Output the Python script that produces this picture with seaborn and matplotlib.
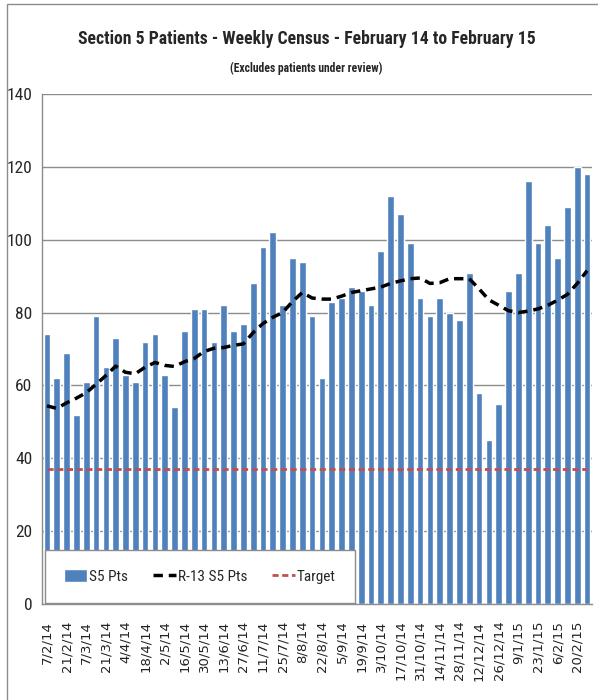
import matplotlib
matplotlib.use("Agg")
import matplotlib.pyplot as plt
from matplotlib.patches import Rectangle
import numpy as np
import pandas as pd
import seaborn as sns

# weekly census, Section 5 patients (7/2/14 .. 27/2/15)
weeks = pd.date_range("2014-02-07", periods=56, freq="7D").strftime("%d/%m/%y")
s5_pts = [74, 62, 69, 52, 61, 79, 65, 73, 63, 61,
          72, 74, 63, 54, 75, 81, 81, 72, 82, 75,
          77, 88, 98, 102, 82, 95, 94, 79, 62, 83,
          84, 87, 86, 82, 97, 112, 107, 99, 84, 79,
          84, 80, 78, 91, 58, 45, 55, 86, 91, 116,
          99, 104, 95, 109, 120, 118]
# rolling 13 week average
r13_pts = [54.4, 53.7, 55.2, 56.5, 58, 60.3, 62.7, 65.3, 63.6, 63.2,
           65, 66.3, 65.5, 65.2, 66.5, 67.4, 69.3, 70.2, 70.4, 71,
           71.4, 74.5, 77, 78.7, 80, 83, 85.5, 84, 83.7, 83.7,
           84.5, 85.5, 86, 86.5, 87, 88, 88.7, 89.3, 89.5, 88,
           88.2, 89.3, 89.3, 89.3, 86.5, 83.5, 82, 80.5, 80, 80.4,
           81, 82, 83.4, 85, 88, 91.5]
target = 37

tick_labels = ["7/2/14", "21/2/14", "7/3/14", "21/3/14", "4/4/14", "18/4/14",
               "2/5/14", "16/5/14", "30/5/14", "13/6/14", "27/6/14", "11/7/14",
               "25/7/14", "8/8/14", "22/8/14", "5/9/14", "19/9/14", "3/10/14",
               "17/10/14", "31/10/14", "14/11/14", "28/11/14", "12/12/14",
               "26/12/14", "9/1/15", "23/1/15", "6/2/15", "20/2/15"]

df = pd.DataFrame({"week": weeks, "S5 Pts": s5_pts, "R-13 S5 Pts": r13_pts})
df["Target"] = target

sns.set_style("white")
narrow = ["Liberation Sans Narrow", "Roboto Condensed", "Open Sans Condensed",
          "Liberation Sans", "DejaVu Sans"]
plt.rcParams["font.family"] = narrow
plt.rcParams["font.stretch"] = "condensed"

fig = plt.figure(figsize=(5.98, 7.0), dpi=100)
ax = fig.add_axes([42 / 598, 96 / 700, 550 / 598, 510 / 700])

sns.barplot(data=df, x="week", y="S5 Pts", color="#4F81BD", width=0.68,
            saturation=1, ax=ax, label="S5 Pts", zorder=2)
pos = np.arange(len(df))
ax.plot(pos, df["R-13 S5 Pts"], color="black", lw=2.5, ls=(0, (2.7, 1.7)),
        label="R-13 S5 Pts", zorder=3)
ax.plot(pos, df["Target"], color="#C0504D", lw=2.0, ls=(0, (2.2, 1.3)),
        label="Target", zorder=3)

ax.set_xlim(-0.5, len(df) - 0.5)
ax.set_ylim(0, 140)
ax.set_yticks(range(0, 141, 20))
ax.yaxis.grid(True, color="#8C8C8C", lw=1)
ax.set_axisbelow(True)
for s in ["top", "right"]:
    ax.spines[s].set_visible(False)
for s in ["left", "bottom"]:
    ax.spines[s].set_color("#8C8C8C")
    ax.spines[s].set_linewidth(1)

ax.set_xticks(np.arange(0, len(df), 2), tick_labels, rotation=90,
              fontsize=9.5, family=["DejaVu Sans"], fontstretch="normal",
              color="#222222")
ax.set_xticks(np.arange(-0.5, len(df), 2), minor=True)
ax.tick_params(axis="x", which="major", length=0, pad=12)
ax.tick_params(axis="x", which="minor", length=5, color="#8C8C8C", width=1)
ax.tick_params(axis="y", length=4, color="#8C8C8C", labelsize=12.5, pad=3)
ax.set_xlabel("")
ax.set_ylabel("")

# legend order as in the original: bars, rolling average, target
handles, labels = ax.get_legend_handles_labels()
order = [labels.index(n) for n in ["S5 Pts", "R-13 S5 Pts", "Target"]]
leg = ax.legend([handles[i] for i in order], [labels[i] for i in order],
                loc="lower left", bbox_to_anchor=(3 / 550, 1 / 510),
                borderaxespad=0, ncol=3, frameon=True, fancybox=False,
                framealpha=1, edgecolor="#8C8C8C", fontsize=11,
                handlelength=1.5, handleheight=0.9, columnspacing=1.6,
                borderpad=1.25, handletextpad=0.15)
leg.get_frame().set_linewidth(1)
leg.set_zorder(5)

fig.text(0.513, 0.945, "Section 5 Patients - Weekly Census - February 14 to February 15",
         ha="center", va="center", fontsize=12.7, fontweight="bold")
fig.text(0.512, 0.903, "(Excludes patients under review)",
         ha="center", va="center", fontsize=8.4, fontweight="bold")

# chart area border
fig.add_artist(Rectangle((7 / 598, -0.1), 1.2, 1.1 - 4 / 700,
                         transform=fig.transFigure, fill=False,
                         edgecolor="#8C8C8C", lw=1))

fig.savefig("out.png", dpi=100, facecolor="white")
